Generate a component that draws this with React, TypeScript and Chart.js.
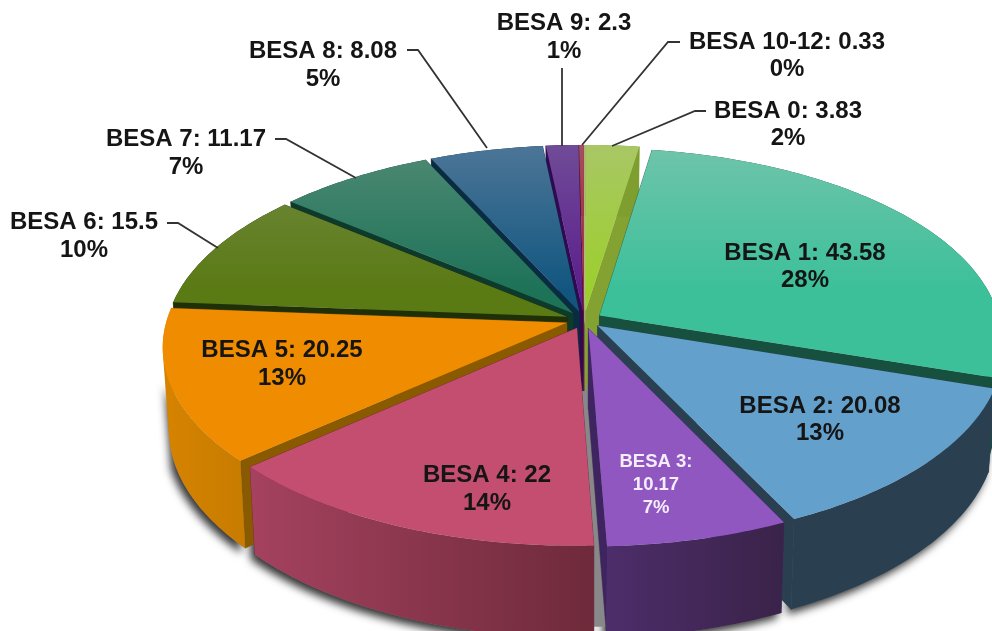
import React, { useEffect, useRef } from "react";
import { Chart, registerables, ArcElement, PieController } from "chart.js";

const categories = ["BESA 0", "BESA 1", "BESA 2", "BESA 3", "BESA 4", "BESA 5", "BESA 6", "BESA 7", "BESA 8", "BESA 9", "BESA 10-12"];
const values = [3.83, 43.58, 20.08, 10.17, 22, 20.25, 15.5, 11.17, 8.08, 2.3, 0.33];
const percents = ["2%", "28%", "13%", "7%", "14%", "13%", "10%", "7%", "5%", "1%", "0%"];

const topLight = ["#a9c766", "#70c4aa", "#64a0cc", "#9157c1", "#c44e70", "#f08c00", "#728a44", "#4f8a74", "#4d7698", "#704c98", "#a85060"];
const topMain = ["#9ccf2c", "#3cc09a", "#64a0cc", "#9157c1", "#c44e70", "#f08c00", "#5a7a14", "#1d7258", "#12567f", "#5c1f8c", "#9a2030"];
const wallLeft = ["#7f9e30", "#17503f", "#2a4050", "#4d2d6a", "#a5425f", "#d68300", "#1f3008", "#0e3a2c", "#0a2c42", "#300a50", "#6a1a20"];
const wallRight = ["#7f9e30", "#17503f", "#2a4050", "#3a2349", "#6e2a3a", "#c87c00", "#1f3008", "#0e3a2c", "#0a2c42", "#300a50", "#6a1a20"];
const faceColors = ["#84a232", "#17503f", "#2a4050", "#3f2560", "#701f40", "#8a5a00", "#1f3008", "#0e3a2c", "#0a2c42", "#300a50", "#6a1a20"];

const labelLayout = [
  { x: 788, y: 111, step: 27 },
  { x: 805, y: 253, step: 27 },
  { x: 820, y: 406, step: 27 },
  { x: 656, y: 462, step: 23, size: 18.5, color: "#f4eefa", wrap: true },
  { x: 487, y: 475, step: 28 },
  { x: 282, y: 350, step: 28 },
  { x: 84, y: 222, step: 28 },
  { x: 186, y: 139, step: 28 },
  { x: 323, y: 51, step: 28 },
  { x: 564, y: 23, step: 28 },
  { x: 787, y: 42, step: 27 },
];
const leaderLines: number[][][] = [
  [[706, 111], [695, 111], [612, 146]],
  [],
  [],
  [],
  [],
  [],
  [[167, 223], [178, 223], [218, 248]],
  [[275, 139], [286, 139], [356, 178]],
  [[407, 50], [418, 50], [487, 148]],
  [[562, 68], [562, 146]],
  [[680, 42], [668, 42], [582, 145]],
];

const CX = 584, CY = 320, RX = 400, RY = 189, PERSP = 0.123, DEPTH = 80;

function project(nx: number, ny: number, z = 0): [number, number] {
  const s = 1 / (1 - PERSP * ny);
  const k = 1 - 0.00018 * z;
  return [CX + RX * nx * s * k, CY + RY * ny * s + z * s];
}

class Arc3D extends ArcElement {
  static id = "arc3d";
  geom() {
    const { startAngle, endAngle, outerRadius } = (this as any).getProps(["startAngle", "endAngle", "outerRadius"]);
    const off = ((this as any).options.offset || 0) / outerRadius;
    const mid = (startAngle + endAngle) / 2;
    return { a0: startAngle, a1: endAngle, mid, ox: off * Math.cos(mid), oy: off * Math.sin(mid) };
  }
  rim(z: number) {
    const { a0, a1, ox, oy } = this.geom();
    const n = Math.max(2, Math.ceil((a1 - a0) * 60));
    const pts: [number, number, number][] = [];
    for (let i = 0; i <= n; i++) {
      const t = a0 + ((a1 - a0) * i) / n;
      const p = project(ox + Math.cos(t), oy + Math.sin(t), z);
      pts.push([p[0], p[1], Math.sin(t)]);
    }
    return pts;
  }
  poly(ctx: CanvasRenderingContext2D, pts: number[][]) {
    ctx.beginPath();
    pts.forEach((p, i) => (i ? ctx.lineTo(p[0], p[1]) : ctx.moveTo(p[0], p[1])));
    ctx.closePath();
  }
  wallPath(ctx: CanvasRenderingContext2D, minSin: number) {
    const top = this.rim(0), bot = this.rim(DEPTH);
    ctx.beginPath();
    for (let i = 0; i + 1 < top.length; i++) {
      if (top[i][2] < minSin && top[i + 1][2] < minSin) continue;
      const q = [top[i], top[i + 1], bot[i + 1], bot[i]];
      let area = 0;
      q.forEach((p, k) => { const r = q[(k + 1) % 4]; area += p[0] * r[1] - r[0] * p[1]; });
      if (area < 0) q.reverse();
      q.forEach((p, k) => (k ? ctx.lineTo(p[0], p[1]) : ctx.moveTo(p[0], p[1])));
      ctx.closePath();
    }
  }
  drawWalls(ctx: CanvasRenderingContext2D, i: number) {
    const { ox, oy } = this.geom();
    const top = this.rim(0), bot = this.rim(DEPTH);
    const a = project(ox, oy, 0), b = project(ox, oy, DEPTH);
    ctx.fillStyle = faceColors[i];
    ctx.strokeStyle = faceColors[i];
    ctx.lineWidth = 0.5;
    this.poly(ctx, [a, top[0], bot[0], b]);
    ctx.fill(); ctx.stroke();
    this.poly(ctx, [a, top[top.length - 1], bot[bot.length - 1], b]);
    ctx.fill(); ctx.stroke();
    const xs = top.map((p) => p[0]);
    const g = ctx.createLinearGradient(Math.min(...xs), 0, Math.max(...xs), 0);
    g.addColorStop(0, wallLeft[i]);
    g.addColorStop(1, wallRight[i]);
    ctx.fillStyle = g;
    this.wallPath(ctx, -2);
    ctx.fill();
  }
  draw(ctx: CanvasRenderingContext2D) {
    const i = (this as any).$index as number;
    const { ox, oy } = this.geom();
    const g = ctx.createLinearGradient(0, 143, 0, 290);
    g.addColorStop(0, topLight[i]);
    g.addColorStop(1, topMain[i]);
    ctx.fillStyle = g;
    this.poly(ctx, [project(ox, oy, 0), ...this.rim(0)]);
    ctx.fill();
  }
}

class Pie3DController extends PieController {
  static id = "pie3d";
  static defaults = { dataElementType: "arc3d" };
  draw() {
    const ctx = (this as any).chart.ctx as CanvasRenderingContext2D;
    const arcs = (this as any)._cachedMeta.data as Arc3D[];
    arcs.forEach((el, i) => ((el as any).$index = i));
    ctx.save();
    ctx.shadowColor = "rgba(0,0,0,0.8)";
    ctx.shadowBlur = 8;
    ctx.shadowOffsetX = -4;
    ctx.shadowOffsetY = 5;
    ctx.fillStyle = "#777";
    arcs.forEach((el) => { el.wallPath(ctx, 0.3); ctx.fill(); });
    ctx.restore();
    // shaded floor seen through the front gap between slices
    const a = project(0, 0, 0);
    const l = project(-0.06, 1, 0), r = project(0.09, 1, 0);
    const bl = project(-0.06, 1, DEPTH), br = project(0.09, 1, DEPTH);
    ctx.fillStyle = "#888888";
    ctx.beginPath();
    ctx.moveTo(a[0], a[1]);
    ctx.lineTo(r[0], r[1]);
    ctx.lineTo(br[0], br[1]);
    ctx.lineTo(bl[0], bl[1]);
    ctx.lineTo(l[0], l[1]);
    ctx.closePath();
    ctx.fill();
    const order = arcs
      .map((el, i) => ({ el, i, y: Math.sin(el.geom().mid) }))
      .sort((p, q) => p.y - q.y);
    order.forEach(({ el, i }) => el.drawWalls(ctx, i));
    arcs.forEach((el) => el.draw(ctx));
  }
}

const labelPlugin = {
  id: "besaLabels",
  afterDatasetsDraw(chart: any) {
    const ctx = chart.ctx as CanvasRenderingContext2D;
    ctx.save();
    ctx.filter = "blur(0.45px)";
    ctx.strokeStyle = "#333";
    ctx.lineWidth = 1.8;
    leaderLines.forEach((line) => {
      if (!line.length) return;
      ctx.beginPath();
      line.forEach((p, i) => (i ? ctx.lineTo(p[0], p[1]) : ctx.moveTo(p[0], p[1])));
      ctx.stroke();
    });
    ctx.textAlign = "center";
    ctx.textBaseline = "middle";
    categories.forEach((name, i) => {
      const l: any = labelLayout[i];
      ctx.font = `bold ${l.size || 24}px "Liberation Sans", Arial, sans-serif`;
      ctx.fillStyle = l.color || "#151515";
      const lines = l.wrap
        ? [`${name}:`, `${values[i]}`, percents[i]]
        : [`${name}: ${values[i]}`, percents[i]];
      lines.forEach((t, k) => ctx.fillText(t, l.x, l.y + k * l.step));
    });
    ctx.restore();
  },
};

Chart.register(...registerables, Arc3D as any, Pie3DController as any);

export default function App() {
  const ref = useRef<HTMLCanvasElement>(null);
  useEffect(() => {
    const chart = new Chart(ref.current as HTMLCanvasElement, {
      type: "pie3d" as any,
      data: {
        labels: categories,
        datasets: [{ data: values, backgroundColor: topMain, offset: 14, borderWidth: 0 } as any],
      },
      options: {
        animation: false,
        responsive: false,
        devicePixelRatio: 1,
        plugins: { legend: { display: false }, tooltip: { enabled: false } },
      } as any,
      plugins: [labelPlugin],
    });
    return () => chart.destroy();
  }, []);
  return (
    <canvas
      ref={ref}
      width={992}
      height={631}
      style={{ position: "absolute", left: 0, top: 0, width: 992, height: 631, display: "block" }}
    />
  );
}
